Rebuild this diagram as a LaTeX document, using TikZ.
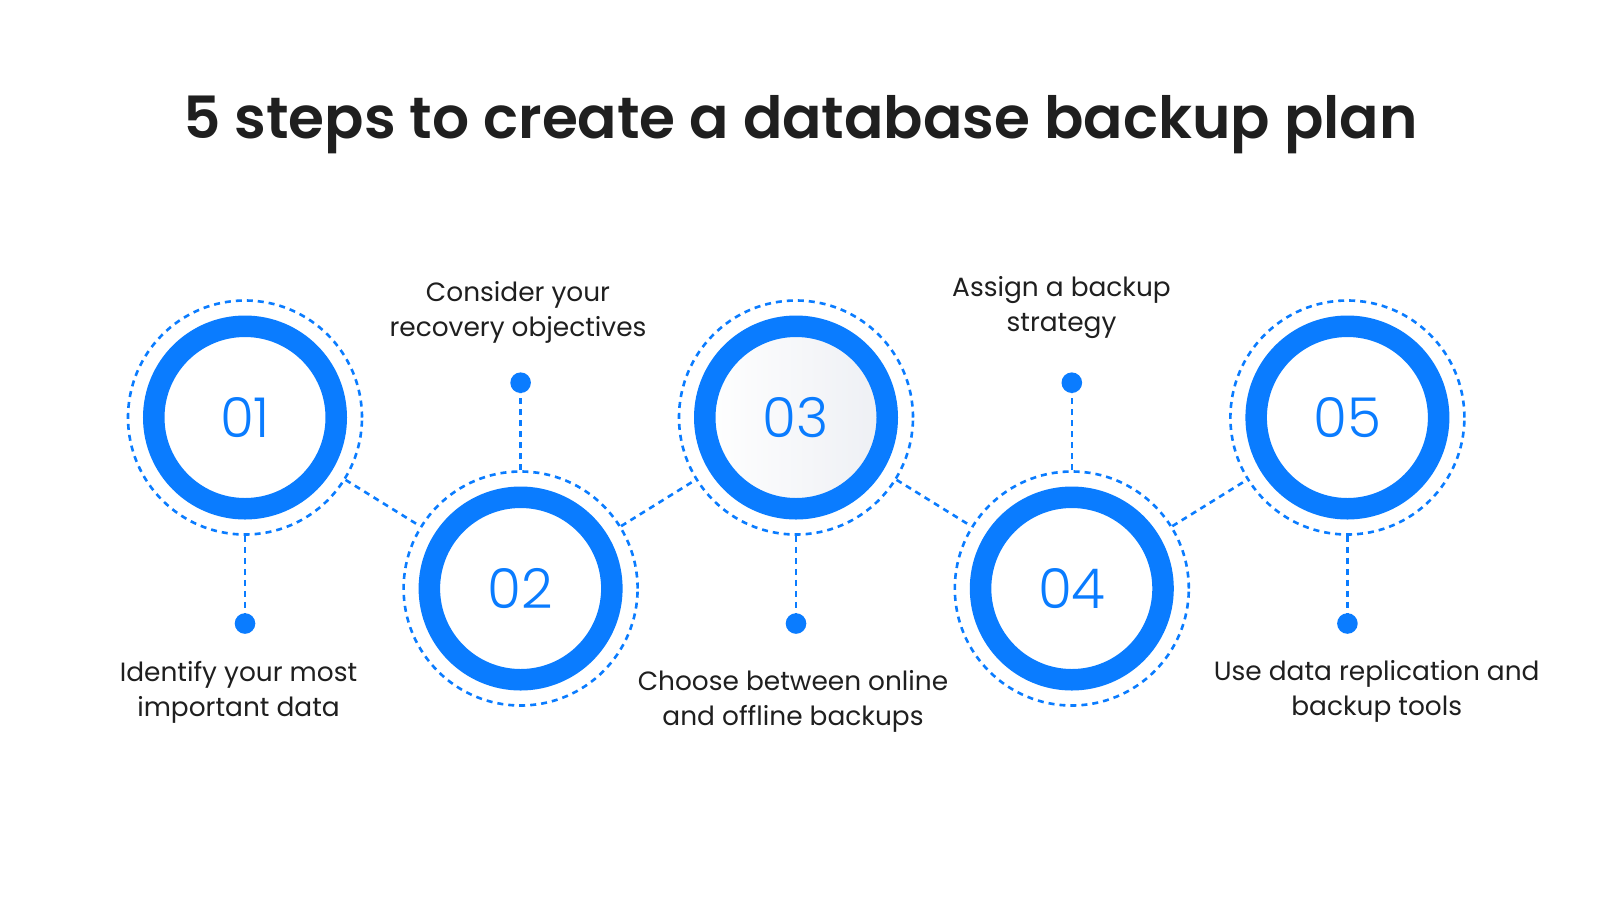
\documentclass[tikz,border=0pt]{standalone}
\usepackage{fontspec}
\setmainfont{Poppins}
\newfontfamily\lightfont{Poppins Light}
\newfontfamily\titlefont{Poppins SemiBold}
\definecolor{stepblue}{HTML}{0A7CFF}
\definecolor{ink}{HTML}{1F1F1F}
\definecolor{paleshade}{HTML}{EDEFF4}

\begin{document}
\begin{tikzpicture}[x=1pt,y=-1pt,
  ringnode/.style={circle, draw=stepblue, line width=21.5pt, minimum size=182.5pt,
    inner sep=0pt, fill=white, text=stepblue,
    font=\lightfont\fontsize{55}{55}\selectfont},
  halo/.style={circle, draw=stepblue, line width=2.6pt, dash pattern=on 6pt off 5pt,
    minimum size=234pt, inner sep=0pt},
  link/.style={draw=stepblue, line width=2.6pt, dash pattern=on 6pt off 5pt},
  pin/.style={circle, fill=stepblue, minimum size=20.6pt, inner sep=0pt},
  caption/.style={align=center, text=ink, anchor=base,
    font=\fontsize{26.4}{35}\selectfont},
]
\useasboundingbox[fill=white] (0,0) rectangle (1600,914);

% title
\node[anchor=base, text=ink, font=\titlefont\fontsize{58.2}{60}\selectfont]
  (title) at (800.5,138) {5 steps to create a database backup plan};

% dashed halos around the steps
\node[halo] (d1) at (245,417.5) {};
\node[halo] (d2) at (520.6,588.5) {};
\node[halo] (d3) at (796,417.5) {};
\node[halo] (d4) at (1071.8,588.5) {};
\node[halo] (d5) at (1347.4,417.5) {};

% numbered rings
\node[ringnode] (c1) at (d1) {01};
\node[ringnode] (c2) at (d2) {02};
\node[ringnode, left color=white, right color=paleshade] (c3) at (d3) {03};
\node[ringnode] (c4) at (d4) {04};
\node[ringnode] (c5) at (d5) {05};

% links between neighbouring steps
\draw[link] (d1) -- (d2);
\draw[link] (d2) -- (d3);
\draw[link] (d3) -- (d4);
\draw[link] (d4) -- (d5);

% pins
\node[pin] (p1) at (245,623.5) {};
\node[pin] (p2) at (520.6,382.7) {};
\node[pin] (p3) at (796,623.5) {};
\node[pin] (p4) at (1071.8,382.7) {};
\node[pin] (p5) at (1347.4,623.5) {};

\draw[link] (d1.south) -- (p1);
\draw[link] (d2.north) -- (p2);
\draw[link] (d3.south) -- (p3);
\draw[link] (d4.north) -- (p4);
\draw[link] (d5.south) -- (p5);

% captions (anchored on the baseline of the last line)
\node[caption] (t1) at (238.5,716) {Identify your most\\important data};
\node[caption] (t2) at (518,336) {Consider your\\recovery objectives};
\node[caption] (t3) at (793,725) {Choose between online\\and offline backups};
\node[caption] (t4) at (1061.5,331) {Assign a backup\\strategy};
\node[caption] (t5) at (1376.7,715) {Use data replication and\\backup tools};
\end{tikzpicture}
\end{document}
